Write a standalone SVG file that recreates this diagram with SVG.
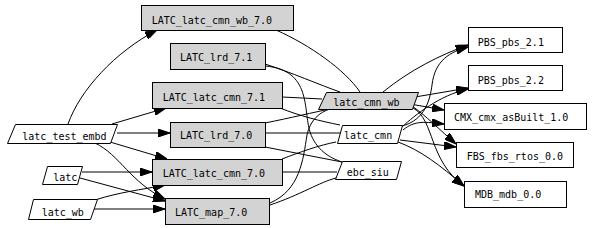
<svg xmlns="http://www.w3.org/2000/svg" width="592" height="228" viewBox="0 0 592 228">
<style>
.n{stroke:#000;stroke-width:1}
.g{fill:#d3d3d3}
.w{fill:#fff}
text{font-family:"DejaVu Sans Mono","Liberation Mono",monospace;font-size:10px;fill:#000}
.e path{fill:none;stroke:#000;stroke-width:1}
.a{marker-end:url(#ah)}
</style>
<defs>
<marker id="ah" viewBox="0 0 12 8" refX="12" refY="4" markerWidth="12" markerHeight="8" markerUnits="userSpaceOnUse" orient="auto">
<path d="M0,0 L12,4 L0,8 Z" fill="#000" stroke="#000" stroke-width="1"/>
</marker>
</defs>
<rect width="592" height="228" fill="#fff"/>
<g class="e" id="edges">
<path class="a" d="M68,124 C80,90 115,52 157,30"/>
<path class="a" d="M112,124 L166,108"/>
<path class="a" d="M117,133 L170,133"/>
<path class="a" d="M110,142 L167,159"/>
<path class="a" d="M95,143 C120,155 130,182 165,199"/>
<path class="a" d="M82,172 L152,172"/>
<path class="a" d="M80,178 L165,201"/>
<path class="a" d="M95,200 C120,192 140,190 165,185"/>
<path class="a" d="M90,209 L165,209"/>
<path d="M276,30 C310,45 345,70 360,92"/>
<path d="M265,64 C290,72 320,85 340,92"/>
<path d="M265,66 C312,70 303,110 310,132 C316,150 330,158 342,162"/>
<path d="M282,97 L322,99"/>
<path d="M280,108 C300,116 320,121 340,125"/>
<path d="M265,123 C290,118 315,112 330,109"/>
<path d="M265,133 L341,133"/>
<path d="M265,147 L342,162"/>
<path d="M282,159 C300,152 320,145 336,142"/>
<path d="M282,172 L337,172"/>
<path d="M270,203 C300,190 303,160 307,135 C310,120 320,112 330,109"/>
<path d="M270,205 C300,195 320,182 336,178"/>
<path class="a" d="M383,92 C410,70 440,55 468,45"/>
<path class="a" d="M402,126 C425,120 430,100 432,85 C435,60 450,52 468,47"/>
<path class="a" d="M415,97 L468,88"/>
<path class="a" d="M402,127 C415,115 440,95 468,89"/>
<path class="a" d="M410,104 L444,110"/>
<path class="a" d="M403,130 C415,120 425,122 444,124"/>
<path class="a" d="M412,106 C425,115 440,130 456,144"/>
<path class="a" d="M400,140 L456,147"/>
<path class="a" d="M413,108 C435,120 428,160 464,186"/>
<path class="a" d="M398,142 C420,150 440,165 464,186"/>
</g>
<g id="LATC_latc_cmn_wb_7.0"><rect class="n g" x="141.5" y="5.5" width="152" height="25"/><text x="151.7" y="23.5">LATC_latc_cmn_wb_7.0</text></g>
<g id="LATC_lrd_7.1"><rect class="n g" x="170.5" y="43.5" width="95" height="26"/><text x="180" y="61">LATC_lrd_7.1</text></g>
<g id="LATC_latc_cmn_7.1"><rect class="n g" x="152.5" y="82.5" width="130" height="26"/><text x="162.7" y="100.5">LATC_latc_cmn_7.1</text></g>
<g id="LATC_lrd_7.0"><rect class="n g" x="170.5" y="122.5" width="95" height="25"/><text x="180" y="139">LATC_lrd_7.0</text></g>
<g id="LATC_latc_cmn_7.0"><rect class="n g" x="152.5" y="159.5" width="130" height="26"/><text x="162.7" y="176.5">LATC_latc_cmn_7.0</text></g>
<g id="LATC_map_7.0"><rect class="n g" x="165.5" y="198.5" width="104" height="26"/><text x="175" y="216">LATC_map_7.0</text></g>
<g id="latc_test_embd"><polygon class="n w" points="15.5,124.5 117.5,124.5 110.5,143.5 7.5,143.5"/><text x="22.3" y="140">latc_test_embd</text></g>
<g id="latc"><polygon class="n w" points="47.5,166.5 82.5,166.5 77.5,184.5 42.5,184.5"/><text x="53.3" y="180.5">latc</text></g>
<g id="latc_wb"><polygon class="n w" points="33.5,199.5 97.5,199.5 90.5,219.5 28.5,219.5"/><text x="41.7" y="216">latc_wb</text></g>
<g id="latc_cmn_wb"><polygon class="n g" points="326.5,92.5 418.5,92.5 412.5,109.5 318.5,109.5"/><text x="333.3" y="106">latc_cmn_wb</text></g>
<g id="latc_cmn"><polygon class="n w" points="342.5,125.5 402.5,125.5 397.5,143.5 337.5,143.5"/><text x="344" y="139.3">latc_cmn</text></g>
<g id="ebc_siu"><polygon class="n w" points="342.5,161.5 401.5,161.5 396.5,179.5 335.5,179.5"/><text x="346.7" y="175.5">ebc_siu</text></g>
<g id="PBS_pbs_2.1"><rect class="n w" x="468.5" y="27.5" width="94" height="25"/><text x="477.7" y="46">PBS_pbs_2.1</text></g>
<g id="PBS_pbs_2.2"><rect class="n w" x="468.5" y="65.5" width="94" height="25"/><text x="477.7" y="84">PBS_pbs_2.2</text></g>
<g id="CMX_cmx_asBuilt_1.0"><rect class="n w" x="444.5" y="103.5" width="142" height="26"/><text x="454" y="120.5">CMX_cmx_asBuilt_1.0</text></g>
<g id="FBS_fbs_rtos_0.0"><rect class="n w" x="456.5" y="142.5" width="117" height="25"/><text x="466.7" y="160">FBS_fbs_rtos_0.0</text></g>
<g id="MDB_mdb_0.0"><rect class="n w" x="464.5" y="181.5" width="102" height="26"/><text x="475" y="198.3">MDB_mdb_0.0</text></g>
</svg>
